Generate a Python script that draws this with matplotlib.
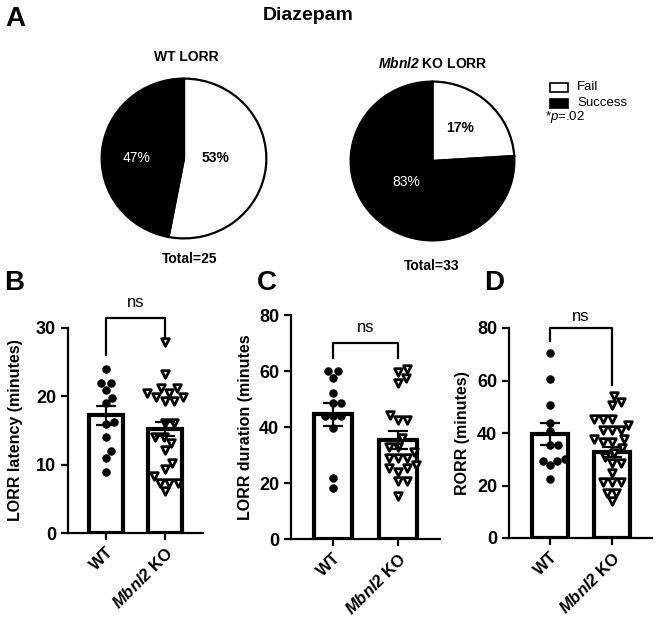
import numpy as np
import matplotlib
matplotlib.use("Agg")
import matplotlib.pyplot as plt
import matplotlib.patches as mpatches

# figure size in pixels
W, H = 656, 623

# ---- pie data (panel A) ----
pie_labels = ["Fail", "Success"]
wt_pie = [53, 47]           # drawn wedge sizes
ko_pie = [24, 76]
wt_pct_text = ["53%", "47%"]
ko_pct_text = ["17%", "83%"]
wt_total = "Total=25"
ko_total = "Total=33"

# ---- scatter/bar data (panels B-D) ----
groups = ["WT", r"$\mathbfit{Mbnl2}$ KO"]

lat_wt = [24, 22, 22, 21, 19.8, 19, 16.3, 16, 14, 12, 11, 9]
lat_ko = [28, 23.2, 21.2, 21.2, 20.5, 20.5, 19.9, 19.9, 19.3, 19.3, 16.1, 16.1,
          14.1, 14.1, 13.2, 12.2, 10.2, 9.3, 7.3, 7.3, 8.3, 7.3, 6.1]
lat_mean = [17.2, 15.2]
lat_sem = [1.4, 1.05]

dur_wt = [60, 60, 57.6, 52.2, 48.6, 48.6, 44, 44, 44, 39.5, 21.8, 18.2]
dur_ko = [60.8, 59.6, 57.6, 55.7, 44.3, 42.5, 42.5, 36, 33, 33, 31, 28.9, 28.9,
          28.9, 26.5, 25.3, 25.3, 24.1, 20.6, 20.6, 15.3]
dur_mean = [44.5, 35.3]
dur_sem = [4.0, 3.2]

rorr_wt = [70.5, 60.6, 50.8, 44, 40.6, 35.6, 35.6, 30.1, 29.2, 29.2, 27.7, 22.5]
rorr_ko = [54.2, 52, 50.8, 45.3, 45.3, 45.3, 43.2, 41, 41, 41, 37.7, 37.7, 36.4,
           36.4, 34.3, 32.4, 31, 28.6, 28.6, 24.8, 21.3, 21.3, 21.3, 17.1, 17.1, 14]
rorr_mean = [39.6, 32.8]
rorr_sem = [4.3, 2.0]

# ---- fonts ----
plt.rcParams["font.family"] = ["Liberation Sans", "DejaVu Sans"]
plt.rcParams["mathtext.fontset"] = "custom"
plt.rcParams["mathtext.rm"] = "Liberation Sans"
plt.rcParams["mathtext.it"] = "Liberation Sans:italic"
plt.rcParams["mathtext.bfit"] = "Liberation Sans:italic:bold"
plt.rcParams["mathtext.bf"] = "Liberation Sans:bold"

fig = plt.figure(figsize=(W / 100, H / 100), dpi=100)
fig.patch.set_facecolor("white")


def box(left, top, right, bottom):
    # pixel box -> figure fraction rect
    return [left / W, 1 - bottom / H, (right - left) / W, (bottom - top) / H]


def ftext(x, y, s, **kw):
    fig.text(x / W, 1 - y / H, s, ha=kw.pop("ha", "center"), va=kw.pop("va", "center"), **kw)


# ---------------- Panel A: pies ----------------
def draw_pie(rect, vals, pct, pct_pos, pct_style):
    ax = fig.add_axes(rect)
    ax.pie(vals, colors=["white", "black"], startangle=90, counterclock=False,
           wedgeprops=dict(edgecolor="black", linewidth=1.6))
    ax.set_aspect("auto")
    ax.set_xlim(-1.02, 1.02)
    ax.set_ylim(-1.02, 1.02)
    for txt, (px, py), (col, wt) in zip(pct, pct_pos, pct_style):
        ax.text(px, py, txt, color=col, fontweight=wt, fontsize=10,
                ha="center", va="center")
    return ax


draw_pie(box(100, 77, 268, 240), wt_pie, wt_pct_text,
         [(0.38, 0.0), (-0.58, 0.0)], [("black", "bold"), ("white", "normal")])
draw_pie(box(349, 80, 516, 242), ko_pie, ko_pct_text,
         [(0.34, 0.41), (-0.32, -0.27)], [("black", "bold"), ("white", "normal")])

ftext(15, 19, "A", fontsize=20, fontweight="bold")
ftext(308, 16, "Diazepam", fontsize=14, fontweight="bold")
ftext(186, 57, "WT LORR", fontsize=10, fontweight="bold")
ftext(433, 63, r"$\mathbfit{Mbnl2}$ KO LORR", fontsize=10, fontweight="bold")
ftext(190, 259, wt_total, fontsize=10, fontweight="bold")
ftext(432, 266, ko_total, fontsize=10, fontweight="bold")

# legend
for yc, fc, lab in [(87, "white", pie_labels[0]), (103, "black", pie_labels[1])]:
    fig.patches.append(mpatches.Rectangle((550 / W, 1 - (yc + 4.5) / H), 18 / W, 9 / H,
                                          facecolor=fc, edgecolor="black", linewidth=1.2,
                                          transform=fig.transFigure, figure=fig))
    ftext(577, yc, lab, fontsize=9.5, ha="left")
ftext(545, 117, r"*$\mathit{p}$=.02", fontsize=9.5, ha="left")


# ---------------- Panels B-D: bars ----------------
def swarm_offsets(ax, xc, vals, diam_px):
    # simple beeswarm: place each point at smallest free horizontal offset
    trans = ax.transData
    pts = []
    offs = np.zeros(len(vals))
    order = np.argsort(vals)
    x0 = trans.transform((xc, 0))[0]
    cands = [0.0]
    for k in range(1, 60):
        cands += [k * 1.0, -k * 1.0]
    for i in order:
        ypx = trans.transform((xc, vals[i]))[1]
        for c in cands:
            if all((c - px) ** 2 + (ypx - py) ** 2 >= diam_px ** 2 for px, py in pts):
                pts.append((c, ypx))
                offs[i] = c
                break
    unit = trans.transform((xc + 1, 0))[0] - x0
    return xc + offs / unit


def bar_panel(rect, xlim, ylim, yticks, wt, ko, mean, sem, ylabel, lab_x,
              bracket, ns_y, letter):
    ax = fig.add_axes(rect)
    ax.set_xlim(*xlim)
    ax.set_ylim(*ylim)
    x = np.arange(2)
    ax.bar(x, mean, width=0.58, color="white", edgecolor="black", linewidth=3, zorder=1)
    xs_wt = swarm_offsets(ax, 0, wt, 8)
    xs_ko = swarm_offsets(ax, 1, ko, 9)
    ax.scatter(xs_wt, wt, s=26, color="black", zorder=3, clip_on=False)
    ax.scatter(xs_ko, ko, s=30, marker="v", facecolor="white", edgecolor="black",
               linewidth=2, zorder=3, clip_on=False)
    ax.errorbar(x, mean, yerr=sem, fmt="none", ecolor="black", elinewidth=1.6,
                capsize=7, capthick=1.6, zorder=4)
    for s in ["top", "right"]:
        ax.spines[s].set_visible(False)
    for s in ["left", "bottom"]:
        ax.spines[s].set_linewidth(1.6)
    ax.set_yticks(yticks)
    ax.set_xticks(x)
    ax.set_xticklabels(groups, rotation=45, ha="right", rotation_mode="anchor",
                       fontweight="bold", fontsize=12)
    ax.tick_params(width=1.6, length=5)
    ax.tick_params(axis="y", labelsize=13)
    for t in ax.get_yticklabels():
        t.set_fontweight("bold")
    ax.set_ylabel(ylabel, fontsize=11.5, fontweight="bold")
    ax.yaxis.set_label_coords(lab_x, 0.5)
    lo_l, top, lo_r = bracket
    ax.plot([0, 0, 1, 1], [lo_l, top, top, lo_r], color="black", lw=1.6, clip_on=False)
    ax.text(0.5, ns_y, "ns", ha="center", va="center", fontsize=12)
    ftext(letter[0], letter[1], letter[2], fontsize=20, fontweight="bold")
    return ax


bar_panel(box(68, 328, 203, 533), (-0.64, 1.64), (0, 30), [0, 10, 20, 30],
          lat_wt, lat_ko, lat_mean, lat_sem, "LORR latency (minutes)", -0.33,
          (26, 31.5, 28.5), 33.7, (14, 283, "B"))
bar_panel(box(291, 315, 440, 539), (-0.646, 1.646), (0, 80), [0, 20, 40, 60, 80],
          dur_wt, dur_ko, dur_mean, dur_sem, "LORR duration (minutes", -0.255,
          (64.6, 70, 64.6), 75.7, (267, 283, "C"))
bar_panel(box(509, 328, 652, 538), (-0.66, 1.65), (0, 80), [0, 20, 40, 60, 80],
          rorr_wt, rorr_ko, rorr_mean, rorr_sem, "RORR (minutes)", -0.27,
          (75, 80, 58.3), 84.3, (494, 283, "D"))

fig.savefig("out.png", dpi=100)
